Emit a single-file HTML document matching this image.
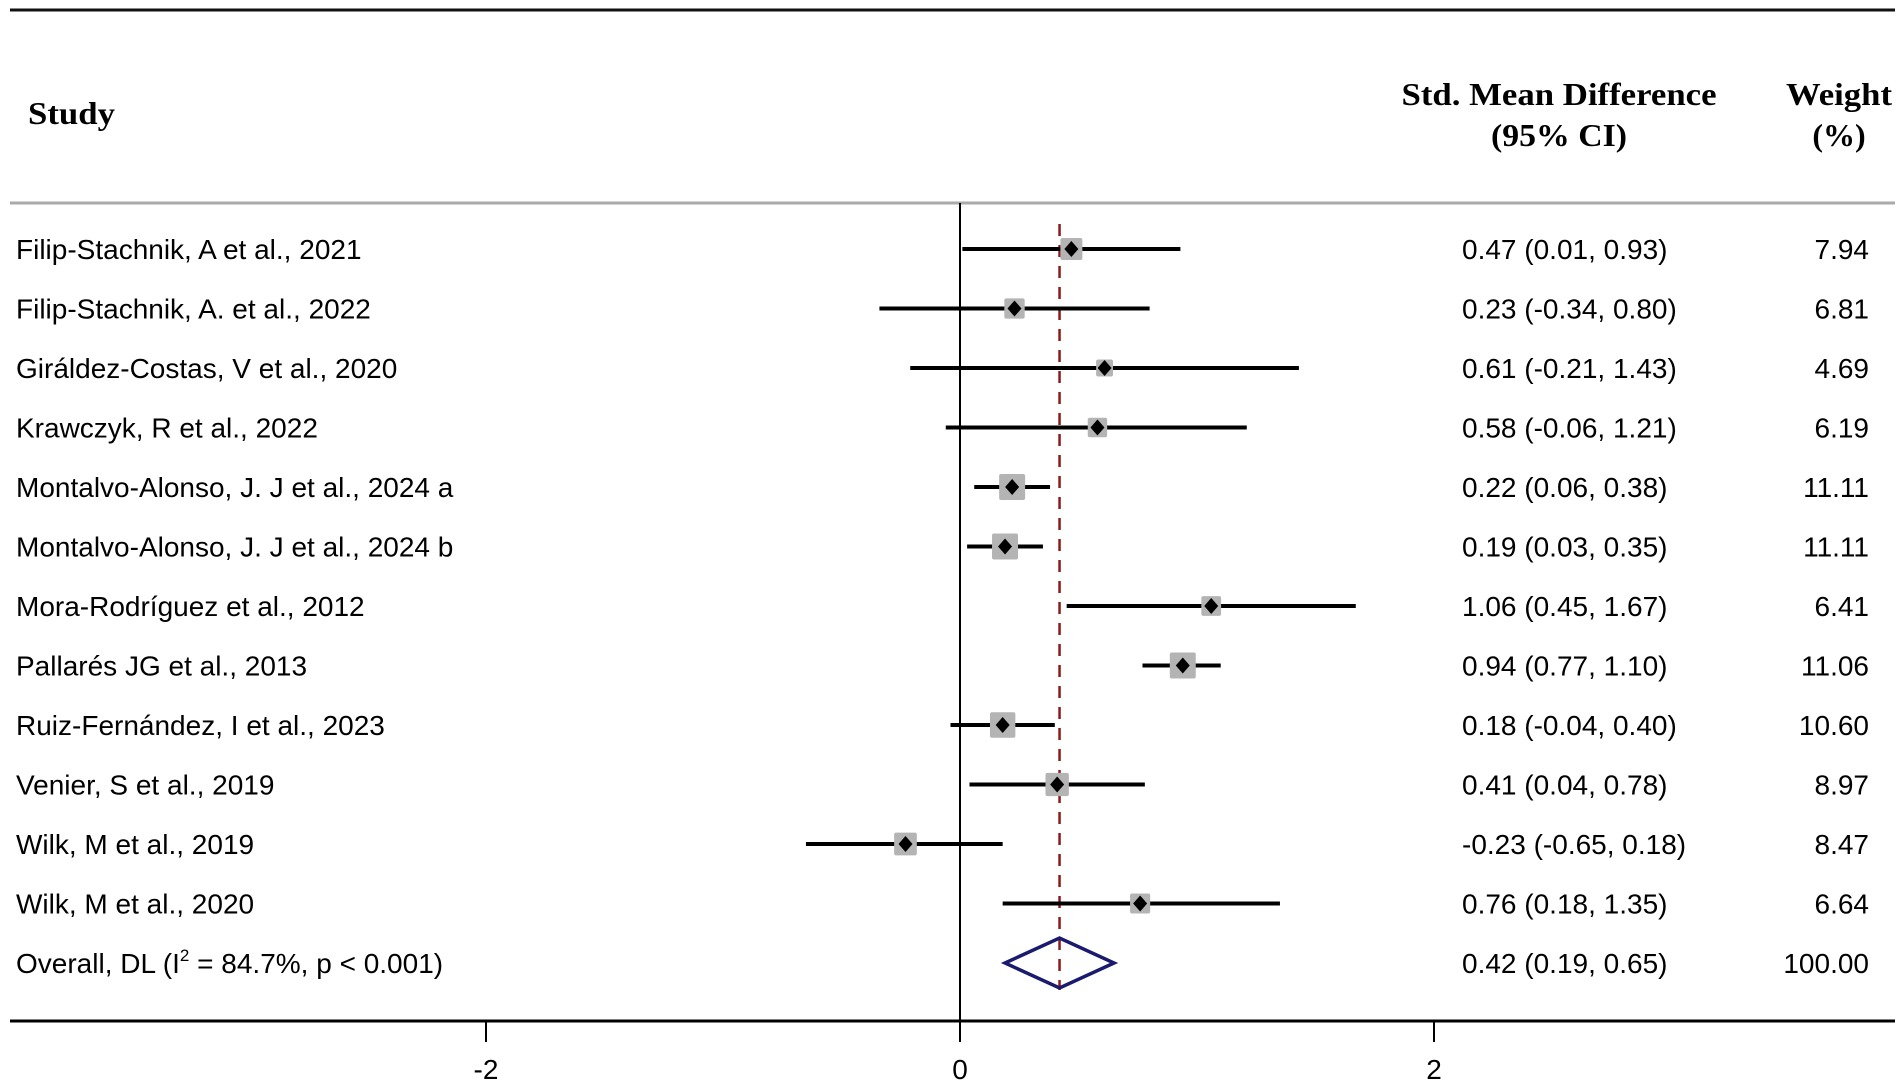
<!DOCTYPE html>
<html><head><meta charset="utf-8">
<style>
html,body{margin:0;padding:0;background:#fff;}
body{width:1902px;height:1088px;overflow:hidden;}
svg{display:block;}
</style></head>
<body>
<svg id="chart" width="1902" height="1088" viewBox="0 0 1902 1088" xmlns="http://www.w3.org/2000/svg">
<line x1="10" y1="10" x2="1895" y2="10" stroke="#111" stroke-width="3"/>
<text x="28" y="124" font-family="Liberation Serif, serif" font-weight="bold" font-size="32" textLength="87" lengthAdjust="spacingAndGlyphs">Study</text>
<text x="1559" y="105" text-anchor="middle" font-family="Liberation Serif, serif" font-weight="bold" font-size="32" textLength="315" lengthAdjust="spacingAndGlyphs">Std. Mean Difference</text>
<text x="1559" y="146" text-anchor="middle" font-family="Liberation Serif, serif" font-weight="bold" font-size="32" textLength="136" lengthAdjust="spacingAndGlyphs">(95% CI)</text>
<text x="1839" y="105" text-anchor="middle" font-family="Liberation Serif, serif" font-weight="bold" font-size="32" textLength="106" lengthAdjust="spacingAndGlyphs">Weight</text>
<text x="1839" y="146" text-anchor="middle" font-family="Liberation Serif, serif" font-weight="bold" font-size="32">(%)</text>
<line x1="10" y1="203" x2="1895" y2="203" stroke="#aaa" stroke-width="3"/>
<g id="plot"></g>
</svg>
<script>
const studies = ["Filip-Stachnik, A et al., 2021","Filip-Stachnik, A. et al., 2022","Giráldez-Costas, V et al., 2020","Krawczyk, R et al., 2022","Montalvo-Alonso, J. J et al., 2024 a","Montalvo-Alonso, J. J et al., 2024 b","Mora-Rodríguez et al., 2012","Pallarés JG et al., 2013","Ruiz-Fernández, I et al., 2023","Venier, S et al., 2019","Wilk, M et al., 2019","Wilk, M et al., 2020"];
const estimates = [0.47,0.23,0.61,0.58,0.22,0.19,1.06,0.94,0.18,0.41,-0.23,0.76];
const lowers = [0.01,-0.34,-0.21,-0.06,0.06,0.03,0.45,0.77,-0.04,0.04,-0.65,0.18];
const uppers = [0.93,0.80,1.43,1.21,0.38,0.35,1.67,1.10,0.40,0.78,0.18,1.35];
const weights = [7.94,6.81,4.69,6.19,11.11,11.11,6.41,11.06,10.60,8.97,8.47,6.64];
const overall = {est:0.42, lo:0.19, hi:0.65, weight:100.00, label:"Overall, DL (I", label2:" = 84.7%, p < 0.001)"};
const ticks = [-2,0,2];

const NS="http://www.w3.org/2000/svg";
const g=document.getElementById('plot');
const xs=v=>960+v*237;
const rowY=i=>249+i*59.5;
function mk(tag,attrs){const e=document.createElementNS(NS,tag);for(const k in attrs)e.setAttribute(k,attrs[k]);g.appendChild(e);return e;}
const F="Liberation Sans, sans-serif";
const FS=28;
const nRows=studies.length;
const oy=rowY(nRows);

let z=mk('line',{x1:xs(0),y1:203,x2:xs(0),y2:1021,stroke:'#000','stroke-width':2});


let d=mk('line',{x1:xs(overall.est),y1:224,x2:xs(overall.est),y2:990,stroke:'#8b1a1a','stroke-width':2.5,'stroke-dasharray':'12,9'});



studies.forEach((s,i)=>{
  const y=rowY(i);
  const t=mk('text',{x:16,y:y+10,'font-family':F,'font-size':FS,fill:'#000'});t.textContent=s;
  
  
  const l=mk('line',{x1:xs(lowers[i]),y1:y,x2:xs(uppers[i]),y2:y,stroke:'#000','stroke-width':4});
  
  
  const sz=7.8*Math.sqrt(weights[i]);
  const b=mk('rect',{x:xs(estimates[i])-sz/2,y:y-sz/2,width:sz,height:sz,fill:'#b4b4b4',rx:2});
  
  
  const cx=xs(estimates[i]);
  const p=mk('polygon',{points:`${cx-7},${y} ${cx},${y-8} ${cx+7},${y} ${cx},${y+8}`,fill:'#000'});
  
  
  const c=mk('text',{x:1462,y:y+10,'font-family':F,'font-size':FS});
  c.textContent=`${estimates[i].toFixed(2)} (${lowers[i].toFixed(2)}, ${uppers[i].toFixed(2)})`;
  
  
  const w=mk('text',{x:1869,y:y+10,'text-anchor':'end','font-family':F,'font-size':FS});
  w.textContent=weights[i].toFixed(2);
  
  
});

const ot=mk('text',{x:16,y:oy+10,'font-family':F,'font-size':FS});
ot.innerHTML=overall.label+'<tspan dy="-12" font-size="17">2</tspan><tspan dy="12">'+overall.label2+'</tspan>';


const dm=mk('polygon',{points:`${xs(overall.lo)},${oy} ${xs(overall.est)},${oy-25} ${xs(overall.hi)},${oy} ${xs(overall.est)},${oy+25}`,fill:'none',stroke:'#1a1a6e','stroke-width':3.5});


const oc=mk('text',{x:1462,y:oy+10,'font-family':F,'font-size':FS});
oc.textContent=`${overall.est.toFixed(2)} (${overall.lo.toFixed(2)}, ${overall.hi.toFixed(2)})`;


const ow=mk('text',{x:1869,y:oy+10,'text-anchor':'end','font-family':F,'font-size':FS});
ow.textContent=overall.weight.toFixed(2);



const ax=mk('line',{x1:10,y1:1021,x2:1895,y2:1021,stroke:'#000','stroke-width':3});


ticks.forEach(v=>{
  const tk=mk('line',{x1:xs(v),y1:1021,x2:xs(v),y2:1042,stroke:'#000','stroke-width':2});
  
  
  const tl=mk('text',{x:xs(v),y:1079,'text-anchor':'middle','font-family':F,'font-size':FS});
  tl.textContent=String(v);
  
  
});
</script>
</body></html>
